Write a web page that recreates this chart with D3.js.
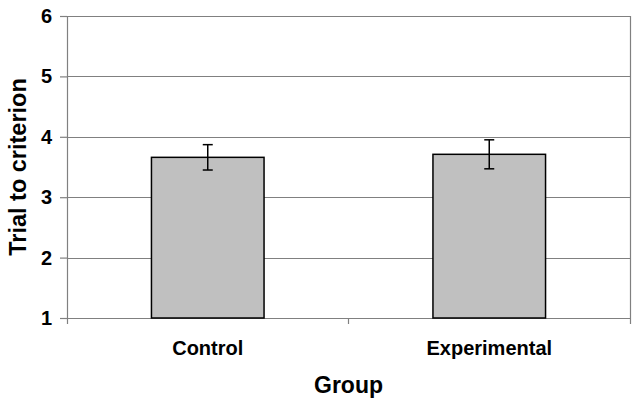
<!DOCTYPE html>
<html>
<head>
<meta charset="utf-8">
<script src="https://cdn.jsdelivr.net/npm/d3@7"></script>
<style>
  body { margin: 0; background: #fff; }
  text { font-family: Arial, "Liberation Sans", sans-serif; font-weight: bold; fill: #000; }
</style>
</head>
<body>
<div class="barchart"></div>
<script>
// data
var groups = ["Control", "Experimental"];
var means = [3.66, 3.71];
var errors = [0.21, 0.24];
var yTicks = [1, 2, 3, 4, 5, 6];

var margin = { top: 16, right: 9, bottom: 86, left: 67 };
var width = 639 - margin.left - margin.right,
    height = 404 - margin.top - margin.bottom;

var data = groups.map(function(g, i) { return { key: g, value: means[i], err: errors[i] }; });

var x = d3.scaleBand()
  .domain(groups)
  .range([0, width])
  .paddingInner(0)
  .paddingOuter(0);

var y = d3.scaleLinear()
  .domain([1, 6])
  .range([height, 0]);

var svg = d3.select(".barchart").append("svg")
  .attr("width", 639)
  .attr("height", 404);

var chart = svg.append("g")
  .attr("transform", "translate(" + margin.left + "," + margin.top + ")");

// gridlines
chart.selectAll(".grid")
  .data(yTicks)
  .enter().append("line")
  .attr("x1", 0)
  .attr("x2", width)
  .attr("y1", function(d) { return Math.round(y(d)) + 0.5; })
  .attr("y2", function(d) { return Math.round(y(d)) + 0.5; })
  .attr("stroke", "#808080")
  .attr("stroke-width", 1.2);

// right border
chart.append("line")
  .attr("x1", width + 0.5).attr("x2", width + 0.5)
  .attr("y1", 0).attr("y2", height + 6)
  .attr("stroke", "#808080")
  .attr("stroke-width", 1.2);

// bars
var bw = x.bandwidth() * 0.4;
chart.selectAll(".bar")
  .data(data)
  .enter().append("rect")
  .attr("class", "bar")
  .attr("x", function(d) { return x(d.key) + (x.bandwidth() - bw) / 2; })
  .attr("width", bw)
  .attr("y", function(d) { return y(d.value); })
  .attr("height", function(d) { return height - y(d.value); })
  .attr("fill", "#c0c0c0")
  .attr("stroke", "#000")
  .attr("stroke-width", 1.5);

// error bars
var eb = chart.selectAll(".err")
  .data(data)
  .enter().append("g")
  .attr("transform", function(d) { return "translate(" + (x(d.key) + x.bandwidth() / 2) + ",0)"; })
  .attr("stroke", "#000")
  .attr("stroke-width", 1.5);
eb.append("line")
  .attr("x1", 0).attr("x2", 0)
  .attr("y1", function(d) { return y(d.value + d.err); })
  .attr("y2", function(d) { return y(d.value - d.err); });
eb.append("line")
  .attr("x1", -5).attr("x2", 5)
  .attr("y1", function(d) { return y(d.value + d.err); })
  .attr("y2", function(d) { return y(d.value + d.err); });
eb.append("line")
  .attr("x1", -5).attr("x2", 5)
  .attr("y1", function(d) { return y(d.value - d.err); })
  .attr("y2", function(d) { return y(d.value - d.err); });

// y axis
var yAxis = chart.append("g")
  .attr("class", "y axis")
  .call(d3.axisLeft(y).tickValues(yTicks).tickFormat(d3.format("d")).tickSize(7).tickPadding(8));
yAxis.selectAll("path, line").attr("stroke", "#808080").attr("stroke-width", 1.2);
yAxis.select(".domain").attr("d", "M0.5,0V" + (height + 6));
yAxis.selectAll("text").style("font-size", "20px").style("font-family", "Arial, 'Liberation Sans', sans-serif").style("font-weight", "bold").attr("fill", "#000");

// x axis
var xAxis = chart.append("g")
  .attr("class", "x axis")
  .attr("transform", "translate(0," + height + ")")
  .call(d3.axisBottom(x).tickSize(0).tickPadding(23));
xAxis.select(".domain").remove();
xAxis.selectAll("text").style("font-size", "20px").style("font-family", "Arial, 'Liberation Sans', sans-serif").style("font-weight", "bold").attr("fill", "#000");
// boundary ticks between categories
xAxis.selectAll(".btick")
  .data([x.bandwidth()])
  .enter().append("line")
  .attr("x1", function(d) { return d; }).attr("x2", function(d) { return d; })
  .attr("y1", 0).attr("y2", 6)
  .attr("stroke", "#808080").attr("stroke-width", 1.2);

// axis titles
svg.append("text")
  .attr("transform", "translate(" + (margin.left + width / 2) + ",393)")
  .style("text-anchor", "middle")
  .style("font-size", "23px")
  .text("Group");

svg.append("text")
  .attr("transform", "translate(26," + (margin.top + height / 2) + ") rotate(-90)")
  .style("text-anchor", "middle")
  .style("font-size", "23.5px")
  .text("Trial to criterion");
</script>
</body>
</html>
